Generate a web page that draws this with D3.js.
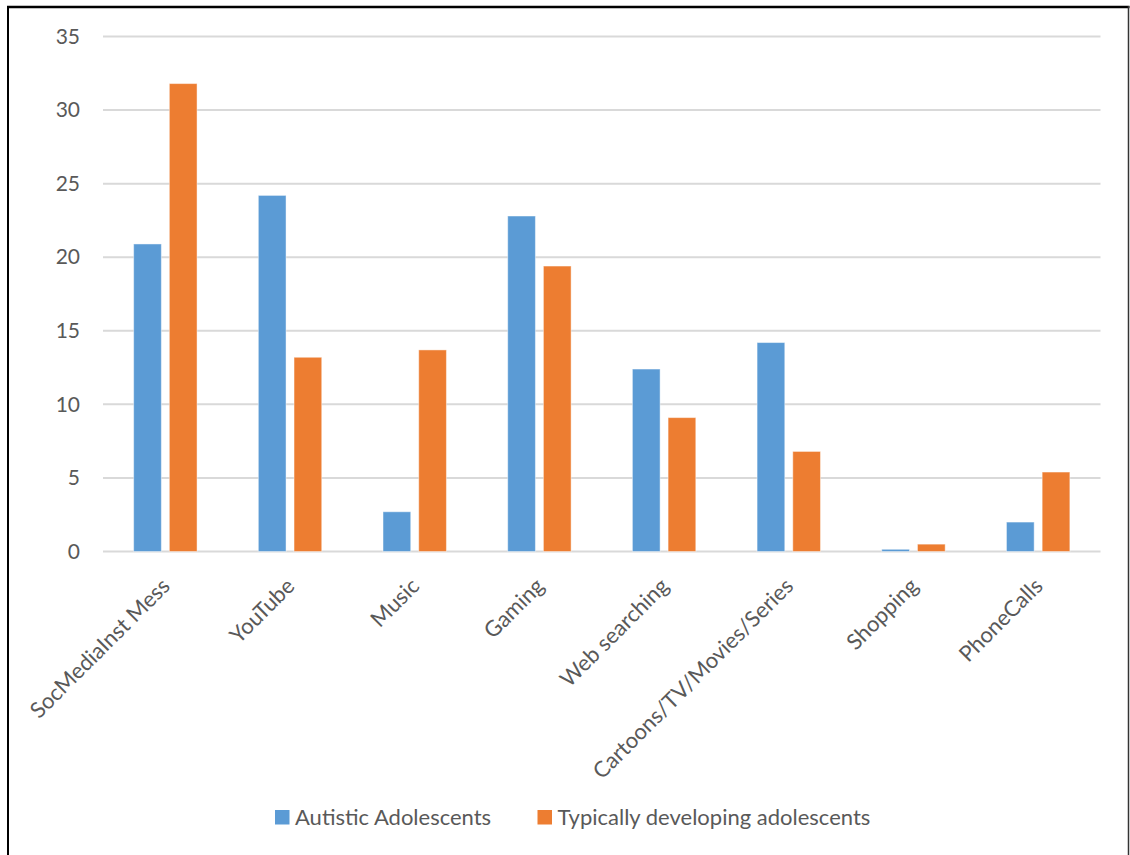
<!DOCTYPE html>
<html>
<head>
<meta charset="utf-8">
<script src="https://cdn.jsdelivr.net/npm/d3@7"></script>
<style>
  html, body { margin: 0; padding: 0; background: #fff; }
  svg { display: block; }
  text { font-family: Lato, "Open Sans", sans-serif; fill: #595959; }
</style>
</head>
<body>
<svg id="chart" width="1130" height="855"></svg>
<script>
// Online activities: time share per category for the two groups
const categories = ["SocMediaInst Mess", "YouTube", "Music", "Gaming", "Web searching",
                    "Cartoons/TV/Movies/Series", "Shopping", "PhoneCalls"];
const autistic = [20.9, 24.2, 2.7, 22.8, 12.4, 14.2, 0.15, 2.0];
const typical  = [31.8, 13.2, 13.7, 19.4, 9.1, 6.8, 0.5, 5.4];
const seriesNames = ["Autistic Adolescents", "Typically developing adolescents"];
const yTicks = [0, 5, 10, 15, 20, 25, 30, 35];

const colors = ["#5B9BD5", "#ED7D31"];
const svg = d3.select("#chart");

svg.append("rect").attr("width", 1130).attr("height", 855).attr("fill", "#fff");

const plot = { left: 103, right: 1100.5, top: 36.5, bottom: 551.5 };

const x = d3.scaleBand().domain(categories).range([plot.left, plot.right]).padding(0);
const y = d3.scaleLinear().domain([0, 35]).range([plot.bottom, plot.top]);

// Horizontal gridlines
svg.append("g").selectAll("line").data(yTicks).join("line")
  .attr("x1", plot.left).attr("x2", plot.right)
  .attr("y1", d => y(d)).attr("y2", d => y(d))
  .attr("stroke", "#d9d9d9").attr("stroke-width", 2);

// Y-axis labels
const yAxis = d3.axisLeft(y).tickValues(yTicks).tickSize(0).tickPadding(0);
const gy = svg.append("g").attr("transform", "translate(80,0)").call(yAxis);
gy.select(".domain").remove();
gy.selectAll("text").attr("font-size", 21).attr("fill", "#595959")
  .style("font-family", "Lato, 'Open Sans', sans-serif");

// Bars
const barW = 27.7, gap = 8;
const rows = categories.map((c, i) => ({ c, vals: [autistic[i], typical[i]] }));
const groups = svg.append("g").selectAll("g").data(rows).join("g");
groups.selectAll("rect").data(d => d.vals.map((v, k) => ({ c: d.c, v, k }))).join("rect")
  .attr("x", d => x(d.c) + x.bandwidth() / 2 + (d.k === 0 ? -gap / 2 - barW : gap / 2))
  .attr("width", barW)
  .attr("y", d => y(d.v))
  .attr("height", d => y(0) - y(d.v))
  .attr("fill", d => colors[d.k])
  .attr("stroke", "#fff").attr("stroke-opacity", 0.45).attr("stroke-width", 1);

// Category labels, rotated
const xAxis = d3.axisBottom(x).tickSize(0).tickPadding(0);
const gx = svg.append("g").attr("transform", `translate(0,${plot.bottom})`).call(xAxis);
gx.select(".domain").remove();
gx.selectAll("text")
  .attr("font-size", 22).attr("fill", "#595959")
  .style("font-family", "Lato, 'Open Sans', sans-serif")
  .attr("text-anchor", "end")
  .attr("dy", 0)
  .attr("y", 0)
  .attr("transform", "translate(6,36) rotate(-45)");

// Legend
const legendX = [275, 537.5];
const legend = svg.append("g").selectAll("g").data(seriesNames).join("g")
  .attr("transform", (d, i) => `translate(${legendX[i]},810)`);
legend.append("rect").attr("width", 14.5).attr("height", 14.5)
  .attr("fill", (d, i) => colors[i]);
legend.append("text").attr("x", 20).attr("y", 15)
  .attr("font-size", 22).text(d => d);

// Frame around the figure
svg.append("line").attr("x1", 7).attr("x2", 1129.5).attr("y1", 7).attr("y2", 7)
  .attr("stroke", "#000").attr("stroke-width", 2.5);
svg.append("line").attr("x1", 8).attr("x2", 8).attr("y1", 6).attr("y2", 855)
  .attr("stroke", "#000").attr("stroke-width", 2);
svg.append("line").attr("x1", 1128.5).attr("x2", 1128.5).attr("y1", 6).attr("y2", 855)
  .attr("stroke", "#333").attr("stroke-width", 1.5);
</script>
</body>
</html>
